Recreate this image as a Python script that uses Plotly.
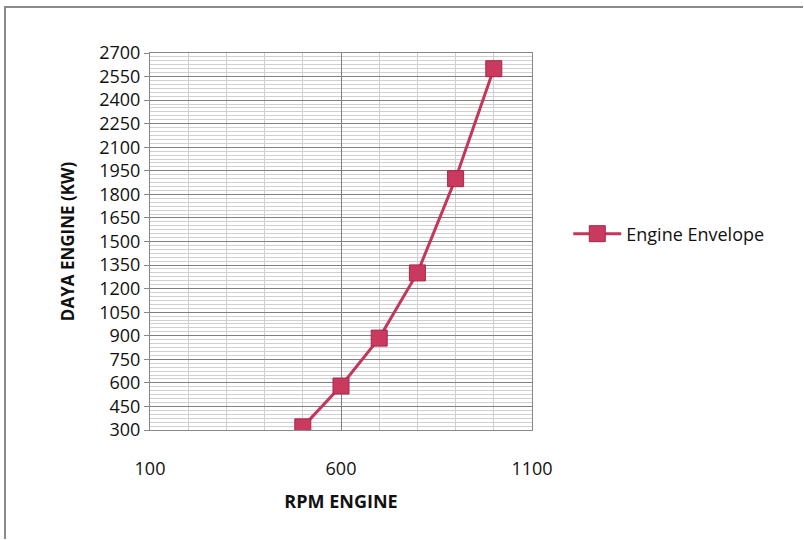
import plotly.graph_objects as go

# Engine envelope: engine speed (rpm) vs engine power (kW)
rpm_engine = [500, 600, 700, 800, 900, 1000]
daya_engine_kw = [320, 580, 885, 1300, 1900, 2600]
series_name = "Engine Envelope"

W, H = 804, 540
L, R, T, B = 150, 272, 53, 110
pw, ph = W - L - R, H - T - B

FONT = "Open Sans"
line_col = "#C2375A"
marker_col = "#C93A5E"

fig = go.Figure()
fig.add_trace(go.Scatter(
    x=rpm_engine, y=daya_engine_kw, name=series_name,
    mode="lines+markers",
    line=dict(color=line_col, width=3),
    marker=dict(symbol="square", size=16, color=marker_col,
                line=dict(color="#A8284A", width=1)),
))

# Outer frame of the chart (left and top edges)
def px_x(p):
    return (p - L) / pw

def px_y(p):
    return (H - B - p) / ph

fig.add_shape(type="path", xref="paper", yref="paper",
              path=f"M {px_x(5)} {px_y(539)} L {px_x(5)} {px_y(7)} L {px_x(803)} {px_y(7)}",
              line=dict(color="#8a8a8a", width=2))

fig.update_layout(
    width=W, height=H,
    margin=dict(l=L, r=R, t=T, b=B),
    paper_bgcolor="white", plot_bgcolor="white",
    font=dict(family=FONT, size=17, color="#111"),
    showlegend=True,
    legend=dict(x=1.095, y=0.52, xanchor="left", yanchor="middle",
                itemwidth=48,
                font=dict(family=FONT, size=18, color="#111"),
                bgcolor="rgba(0,0,0,0)"),
    xaxis=dict(
        range=[100, 1100], tick0=100, dtick=500,
        showline=True, linecolor="#888", linewidth=1, mirror=True,
        showgrid=True, gridcolor="#808080", gridwidth=1,
        minor=dict(dtick=100, showgrid=True, gridcolor="#cfcfcf", gridwidth=1),
        ticks="", ticklabelstandoff=22,
        tickfont=dict(family=FONT, size=18),
        zeroline=False,
        title=dict(text="<b>RPM ENGINE</b>", standoff=16,
                   font=dict(family=FONT, size=18)),
    ),
    yaxis=dict(
        range=[300, 2700], tick0=300, dtick=150,
        showline=True, linecolor="#888", linewidth=1, mirror=True,
        showgrid=True, gridcolor="#808080", gridwidth=1,
        minor=dict(dtick=25, showgrid=True, gridcolor="#d0d0d0", gridwidth=1),
        ticks="outside", ticklen=5, tickcolor="#888",
        tickfont=dict(family=FONT, size=18),
        zeroline=False,
        title=dict(text="<b>DAYA ENGINE (KW)</b>", standoff=20,
                   font=dict(family=FONT, size=17)),
    ),
)

fig.write_html("out.html")
